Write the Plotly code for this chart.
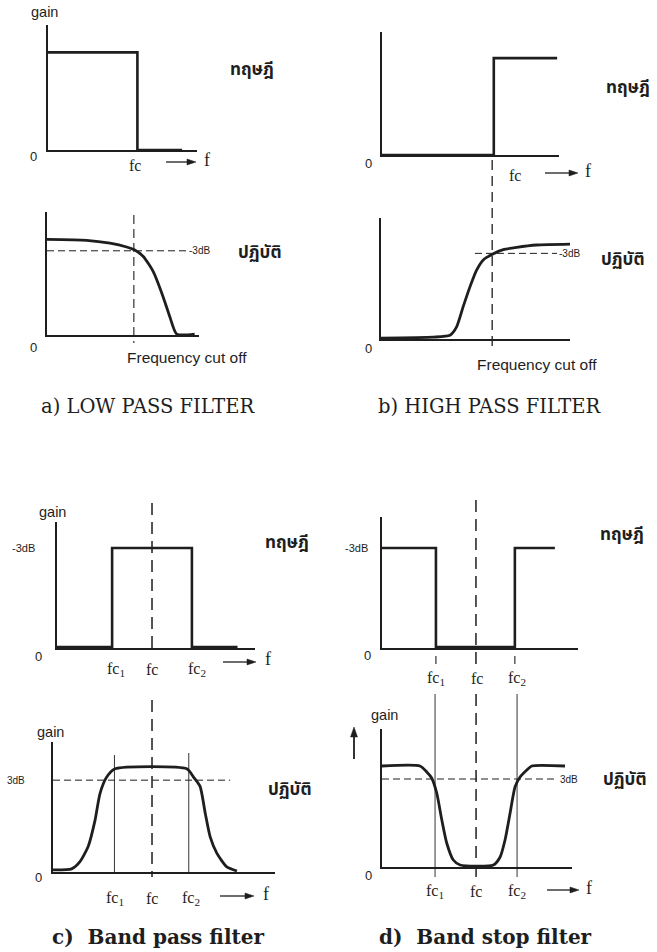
import plotly.graph_objects as go

W, H = 657, 952

# ---------------- data (normalised frequency / gain) ----------------
# a) low pass
lp_th_f = [0, 6, 6, 9]
lp_th_g = [1, 1, 0, 0]
lp_pr_f = [0, 2.74, 4.35, 5.5, 6.03, 6.65, 7.34, 8.03, 8.49, 8.96, 10.2]
lp_pr_g = [1.01, 1.0, 0.97, 0.93, 0.90, 0.83, 0.67, 0.40, 0.19, 0.01, 0.01]
lp_3db_f = [0, 9.67]
lp_3db_g = [0.89, 0.89]
lp_fc = 6

# b) high pass
hp_th_f = [0, 6, 6, 9.4]
hp_th_g = [0, 0, 1, 1]
hp_pr_f = [0, 2.82, 3.72, 4.08, 4.44, 4.80, 5.16, 5.52, 6.01, 6.60, 7.32, 8.40, 10.2]
hp_pr_g = [0.01, 0.02, 0.04, 0.13, 0.35, 0.56, 0.74, 0.85, 0.91, 0.96, 0.985, 1.01, 1.02]
hp_3db_f = [5.07, 9.5]
hp_3db_g = [0.92, 0.92]
hp_fc = 6

# c) band pass
bp_th_f = [0, 2.9, 2.9, 7.1, 7.1, 9.5]
bp_th_g = [0.01, 0.01, 1, 1, 0.01, 0.01]
bp_pr_f = [0, 0.94, 1.36, 1.78, 2.12, 2.37, 2.71, 3.13, 6.75, 7.09, 7.42, 7.68, 7.93, 8.27, 8.77, 9.28]
bp_pr_g = [0.02, 0.03, 0.10, 0.25, 0.50, 0.76, 0.92, 1.0, 1.0, 0.92, 0.83, 0.57, 0.34, 0.18, 0.05, 0.01]
bp_3db_f = [0, 8.94]
bp_3db_g = [0.89, 0.89]
bp_fc1, bp_fc, bp_fc2 = 3.1, 5, 6.85

# d) band stop
bs_th_f = [0, 2.87, 2.87, 7.07, 7.07, 9.2]
bs_th_g = [1, 1, 0.01, 0.01, 1, 1]
bs_pr_f = [0, 2.02, 2.38, 2.64, 2.91, 3.18, 3.44, 3.79, 4.15, 5.92, 6.28, 6.54, 6.81, 7.07, 7.34, 7.70, 7.96, 9.73]
bs_pr_g = [1.01, 1.01, 0.95, 0.89, 0.74, 0.47, 0.24, 0.07, 0.02, 0.02, 0.10, 0.27, 0.54, 0.80, 0.90, 0.97, 1.01, 1.01]
bs_3db_f = [0, 9.3]
bs_3db_g = [0.88, 0.88]
bs_fc1, bs_fc, bs_fc2 = 2.82, 5, 7.18
bs_th_fc1, bs_th_fc2 = 2.87, 7.07

# ---------------- layout helpers ----------------
def px(x):
    return x / W

def py(y):
    return 1 - y / H

INK = "#1e1e1e"
SANS = "Liberation Sans, Arial, sans-serif"
SERIF = "Liberation Serif, Times New Roman, serif"
CAP = "DejaVu Serif, Liberation Serif, serif"
THAI = "Noto Sans Thai, Loma, Garuda, Noto Sans, DejaVu Sans, sans-serif"

# panel boxes: (x_left, x_right, y_top, y_base, x_range, y_range)
panels = [
    (48, 197, 25, 150, 10.0, 1.28),    # a theory
    (47, 199, 212, 335, 10.5, 1.30),   # a practice
    (382, 559, 32, 155, 9.5, 1.27),    # b theory
    (381, 570, 218, 339, 10.2, 1.30),  # b practice
    (57, 255, 522, 648, 10.42, 1.26),  # c theory
    (53, 275, 742, 872, 11.2, 1.26),   # c practice
    (382, 578, 517, 648, 10.43, 1.31), # d theory
    (382, 572, 729, 867, 10.1, 1.38),  # d practice
]

fig = go.Figure()
layout = dict(
    width=W, height=H, margin=dict(l=0, r=0, t=0, b=0),
    paper_bgcolor="white", plot_bgcolor="rgba(0,0,0,0)", showlegend=False,
)
for i, (xl, xr, yt, yb, xrg, yrg) in enumerate(panels, start=1):
    sx = "" if i == 1 else str(i)
    layout["xaxis" + sx] = dict(
        domain=[px(xl), px(xr)], range=[0, xrg], anchor="y" + sx,
        showline=True, linecolor=INK, linewidth=1.7, showgrid=False,
        zeroline=False, showticklabels=False, ticks="", fixedrange=True)
    layout["yaxis" + sx] = dict(
        domain=[py(yb), py(yt)], range=[0, yrg], anchor="x" + sx,
        showline=True, linecolor=INK, linewidth=1.7, showgrid=False,
        zeroline=False, showticklabels=False, ticks="", fixedrange=True)
fig.update_layout(**layout)

def ax(i):
    return ("x" if i == 1 else "x%d" % i), ("y" if i == 1 else "y%d" % i)

def curve(i, f, g, width=2.6, dash="solid", smooth=False):
    xa, ya = ax(i)
    line = dict(color=INK, width=width, dash=dash)
    if smooth:
        line.update(shape="spline", smoothing=0.6)
    fig.add_trace(go.Scatter(x=f, y=g, mode="lines", line=line,
                             xaxis=xa, yaxis=ya, hoverinfo="skip"))

DASH3 = "7px,4px"
# a
curve(1, lp_th_f, lp_th_g)
curve(2, lp_pr_f, lp_pr_g, width=2.8, smooth=True)
curve(2, lp_3db_f, lp_3db_g, width=1, dash=DASH3)
# b
curve(3, hp_th_f, hp_th_g)
curve(4, hp_pr_f, hp_pr_g, width=2.8, smooth=True)
curve(4, hp_3db_f, hp_3db_g, width=1, dash=DASH3)
# c
curve(5, bp_th_f, bp_th_g)
curve(6, bp_pr_f, bp_pr_g, width=2.8, smooth=True)
curve(6, bp_3db_f, bp_3db_g, width=1, dash=DASH3)
# d
curve(7, bs_th_f, bs_th_g)
curve(8, bs_pr_f, bs_pr_g, width=2.8, smooth=True)
curve(8, bs_3db_f, bs_3db_g, width=1, dash=DASH3)

# vertical guide lines (x in data, y spanning panels in paper units)
def vline(i, xv, ytop, ybot, width=1.3, dash="10px,6px"):
    xa, _ = ax(i)
    fig.add_shape(type="line", xref=xa, yref="paper", x0=xv, x1=xv,
                  y0=py(ytop), y1=py(ybot),
                  line=dict(color=INK, width=width, dash=dash))

vline(2, lp_fc, 215, 343, width=1.1, dash="9px,5px")
vline(4, hp_fc, 160, 347, width=1.3)
vline(5, bp_fc, 503, 654, width=1.5, dash="12px,7px")
vline(5, bp_fc, 700, 877, width=1.5, dash="12px,7px")
vline(6, bp_fc1, 755, 872, width=0.9, dash="solid")
vline(6, bp_fc2, 753, 872, width=0.9, dash="solid")
vline(7, bs_fc, 500, 664, width=1.5, dash="12px,7px")
vline(7, bs_th_fc1, 656, 664, width=1.1, dash="solid")
vline(7, bs_th_fc2, 656, 664, width=1.1, dash="solid")
vline(8, bs_fc, 694, 877, width=1.5, dash="12px,7px")
vline(8, bs_fc1, 694, 877, width=0.9, dash="solid")
vline(8, bs_fc2, 694, 877, width=0.9, dash="solid")

# ---------------- text ----------------
def txt(x, y, s, size=12, family=SANS, xanchor="center", color=INK):
    fig.add_annotation(x=px(x), y=py(y), xref="paper", yref="paper", text=s,
                       showarrow=False, xanchor=xanchor, yanchor="middle",
                       font=dict(size=size, family=family, color=color))

def arrow_right(x0, x1, y):
    fig.add_shape(type="line", xref="paper", yref="paper",
                  x0=px(x0), x1=px(x1 - 5), y0=py(y), y1=py(y),
                  line=dict(color=INK, width=1.3))
    fig.add_shape(type="path", xref="paper", yref="paper",
                  path="M %f %f L %f %f L %f %f Z" % (
                      px(x1), py(y), px(x1 - 9), py(y - 3), px(x1 - 9), py(y + 3)),
                  fillcolor=INK, line=dict(color=INK, width=0.5))

def arrow_up(x, y0, y1):
    fig.add_shape(type="line", xref="paper", yref="paper",
                  x0=px(x), x1=px(x), y0=py(y0), y1=py(y1 + 5),
                  line=dict(color=INK, width=1.8))
    fig.add_shape(type="path", xref="paper", yref="paper",
                  path="M %f %f L %f %f L %f %f Z" % (
                      px(x), py(y1), px(x - 3.5), py(y1 + 10), px(x + 3.5), py(y1 + 10)),
                  fillcolor=INK, line=dict(color=INK, width=0.5))

TH = "<b>ทฤษฎี</b>"
PR = "<b>ปฏิบัติ</b>"
FC1 = "fc<sub>1</sub>"
FC2 = "fc<sub>2</sub>"
FS_FC = 16
FS_F = 18
FS_TH = 17
FS_0 = 13
FS_GAIN = 14.5
FS_FCO = 15.5

# a
txt(44, 12, "gain", FS_GAIN)
txt(33, 157, "0", FS_0)
txt(135, 165, "fc", FS_FC, SERIF)
arrow_right(166, 196, 162)
txt(207, 160, "f", FS_F, SERIF)
txt(252, 70, TH, FS_TH, THAI)
txt(33, 347, "0", FS_0)
txt(187, 357, "Frequency cut off", FS_FCO)
txt(187, 251, "-3dB", 10, xanchor="left")
txt(260, 253, PR, FS_TH, THAI)
txt(148, 406, "a) LOW PASS FILTER", 19.5, CAP)
# b
txt(368, 163, "0", FS_0)
txt(515, 175, "fc", FS_FC, SERIF)
arrow_right(545, 578, 173)
txt(588, 171, "f", FS_F, SERIF)
txt(628, 88, TH, FS_TH, THAI)
txt(368, 348, "0", FS_0)
txt(537, 364, "Frequency cut off", FS_FCO)
txt(557, 254, "-3dB", 10, xanchor="left")
txt(623, 260, PR, FS_TH, THAI)
txt(490, 406, "b) HIGH PASS FILTER", 19.5, CAP)
# c
txt(52, 512, "gain", FS_GAIN)
txt(23, 548, "-3dB", 11)
txt(38, 656, "0", FS_0)
txt(116, 669, FC1, FS_FC, SERIF)
txt(152, 669, "fc", FS_FC, SERIF)
txt(197, 669, FC2, FS_FC, SERIF)
arrow_right(223, 256, 662)
txt(268, 659, "f", FS_F, SERIF)
txt(287, 543, TH, FS_TH, THAI)
txt(50, 732, "gain", FS_GAIN)
txt(16, 780, "3dB", 10)
txt(38, 877, "0", FS_0)
txt(115, 898, FC1, FS_FC, SERIF)
txt(152, 898, "fc", FS_FC, SERIF)
txt(191, 898, FC2, FS_FC, SERIF)
arrow_right(220, 254, 896)
txt(266, 894, "f", FS_F, SERIF)
txt(290, 790, PR, FS_TH, THAI)
txt(158, 937, "<b>c)  Band pass filter</b>", 20, CAP)
# d
txt(356, 548, "-3dB", 11)
txt(367, 655, "0", FS_0)
txt(436, 678, FC1, FS_FC, SERIF)
txt(477, 678, "fc", FS_FC, SERIF)
txt(517, 678, FC2, FS_FC, SERIF)
txt(622, 535, TH, FS_TH, THAI)
txt(384, 715, "gain", FS_GAIN)
arrow_up(354, 759, 727)
txt(368, 875, "0", FS_0)
txt(435, 891, FC1, FS_FC, SERIF)
txt(476, 891, "fc", FS_FC, SERIF)
txt(517, 891, FC2, FS_FC, SERIF)
arrow_right(547, 579, 890)
txt(589, 888, "f", FS_F, SERIF)
txt(558, 779, "3dB", 10, xanchor="left")
txt(625, 780, PR, FS_TH, THAI)
txt(485, 937, "<b>d)  Band stop filter</b>", 20, CAP)

fig.write_html("out.html", config={"displayModeBar": False},
               post_script="document.body.style.margin='0';document.body.style.padding='0';")
